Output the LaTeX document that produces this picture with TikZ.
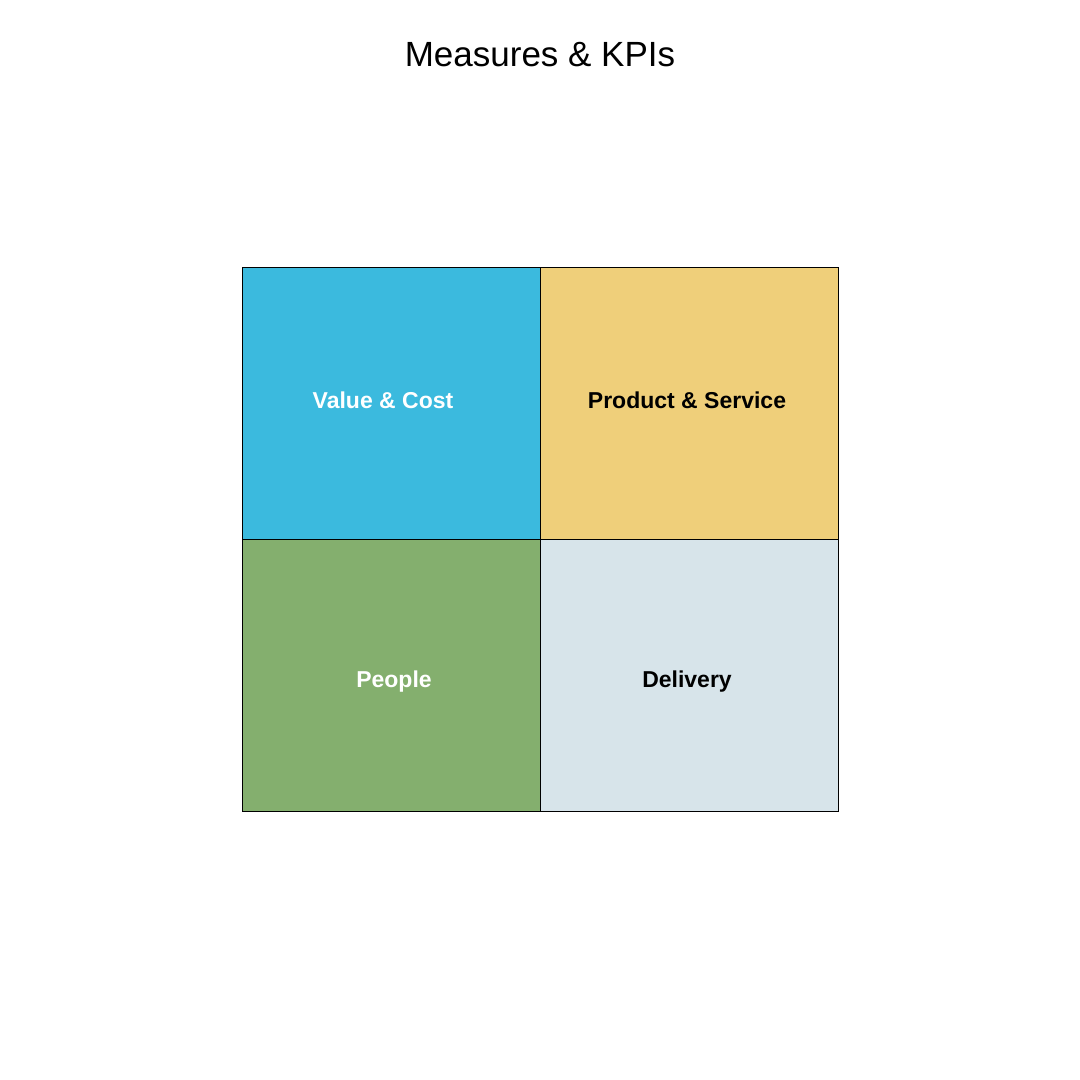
\documentclass[tikz,border=0pt]{standalone}
\usepackage{fontspec}
\setmainfont{Liberation Sans}
\usepackage{xcolor}
\usetikzlibrary{positioning}
\definecolor{valueblue}{HTML}{3BBADE}
\definecolor{productyellow}{HTML}{EFCF7A}
\definecolor{peoplegreen}{HTML}{84AF6E}
\definecolor{deliverygrey}{HTML}{D7E4EA}
\begin{document}
\begin{tikzpicture}[x=1pt, y=-1pt,
    quad/.style={draw=black, line width=0.8pt, rectangle, inner sep=0pt, minimum width=298pt, minimum height=272pt, font=\fontsize{23}{27}\selectfont\bfseries}]
    \useasboundingbox (0,0) rectangle (1080,1080);
    % Title
    \node[font=\fontsize{35}{40}\selectfont] (title) at (540,55) {Measures \& KPIs};
    % Quadrants
    \node[quad, fill=valueblue, text=white] (value) at (391,403.5) {};
    \node[quad, fill=productyellow] (product) at (689,403.5) {};
    \node[quad, fill=peoplegreen, text=white] (people) at (391,675.5) {};
    \node[quad, fill=deliverygrey] (delivery) at (689,675.5) {};
    % Labels
    \node[font=\fontsize{23}{27}\selectfont\bfseries, text=white] (valuelbl) at (383,400) {Value \& Cost};
    \node[font=\fontsize{23}{27}\selectfont\bfseries] (productlbl) at (687,400) {Product \& Service};
    \node[font=\fontsize{23}{27}\selectfont\bfseries, text=white] (peoplelbl) at (394,682) {People};
    \node[font=\fontsize{23}{27}\selectfont\bfseries] (deliverylbl) at (687,682) {Delivery};
\end{tikzpicture}
\end{document}
